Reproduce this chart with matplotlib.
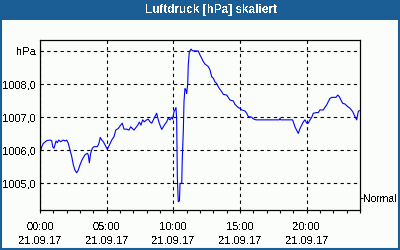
import matplotlib
matplotlib.use('agg')
from matplotlib import pyplot as plt
from matplotlib.patches import Rectangle

# Luftdruck, Stunden seit 00:00 am 21.09.17
stunden = [0.0, 0.13, 0.25, 0.50, 0.75, 0.88, 0.95, 1.05, 1.20, 1.30, 1.40, 1.55, 1.75, 1.90,
           2.00, 2.12, 2.25, 2.38, 2.50, 2.62, 2.75, 2.87, 3.00, 3.13, 3.25, 3.37, 3.55, 3.62,
           3.70, 3.80, 3.92, 4.05, 4.30, 4.42, 4.52, 4.63, 4.75, 4.88, 5.05, 5.20, 5.38, 5.55,
           5.68, 5.87, 6.05, 6.17, 6.30, 6.50, 6.67, 6.80, 6.92, 7.05, 7.20, 7.33, 7.45, 7.57,
           7.70, 7.82, 8.00, 8.12, 8.25, 8.38, 8.50, 8.62, 8.75, 8.87, 9.00, 9.13, 9.25, 9.37,
           9.50, 9.62, 9.75, 9.88, 9.95, 10.05, 10.12, 10.20, 10.25, 10.30, 10.37, 10.46, 10.50,
           10.63, 10.67, 10.75, 10.80, 10.87, 10.95, 11.00, 11.08, 11.12, 11.20, 11.33, 11.42,
           11.87, 12.00, 12.13, 12.25, 12.37, 12.62, 12.75, 12.88, 13.00, 13.12, 13.25, 13.37,
           13.50, 13.63, 13.75, 14.00, 14.12, 14.25, 14.50, 14.62, 14.87, 15.00, 15.13, 15.37,
           15.50, 15.62, 15.88, 16.00, 16.20, 17.95, 18.00, 18.05, 18.95, 19.12, 19.37, 19.50,
           19.75, 19.87, 20.00, 20.12, 20.25, 20.38, 20.50, 20.75, 20.87, 21.00, 21.25, 21.37,
           21.50, 21.62, 21.75, 21.88, 22.20, 22.33, 22.45, 22.57, 22.70, 22.87, 23.08, 23.25,
           23.45, 23.62, 23.75, 23.87, 23.95]
druck = [1005.91, 1006.11, 1006.21, 1006.29, 1006.31, 1006.29, 1006.11, 1006.06, 1006.28,
         1006.23, 1006.31, 1006.26, 1006.31, 1006.28, 1006.31, 1006.21, 1006.01, 1005.81,
         1005.56, 1005.40, 1005.32, 1005.40, 1005.56, 1005.69, 1005.78, 1005.86, 1005.91,
         1005.86, 1005.62, 1005.91, 1006.06, 1006.11, 1006.11, 1006.21, 1006.39, 1006.31,
         1006.26, 1006.16, 1006.03, 1006.16, 1006.31, 1006.41, 1006.61, 1006.66, 1006.76,
         1006.82, 1006.64, 1006.64, 1006.61, 1006.71, 1006.66, 1006.61, 1006.69, 1006.76,
         1006.85, 1006.76, 1006.92, 1006.86, 1006.92, 1006.94, 1006.86, 1006.82, 1006.92,
         1007.02, 1007.12, 1006.92, 1006.76, 1006.63, 1006.71, 1006.79, 1006.86, 1006.97,
         1006.92, 1007.00, 1006.94, 1007.17, 1007.22, 1007.29, 1006.92, 1005.20, 1004.45,
         1004.47, 1005.00, 1005.00, 1005.71, 1006.61, 1007.47, 1007.87, 1007.82, 1007.72,
         1008.02, 1008.58, 1008.98, 1009.06, 1009.01, 1009.00, 1008.88, 1008.78, 1008.68,
         1008.61, 1008.53, 1008.43, 1008.22, 1008.18, 1008.07, 1008.02, 1007.92, 1007.84,
         1007.77, 1007.69, 1007.67, 1007.60, 1007.52, 1007.49, 1007.39, 1007.29, 1007.27,
         1007.22, 1007.19, 1007.12, 1007.02, 1007.00, 1006.95, 1006.92, 1006.92, 1006.97,
         1006.92, 1006.92, 1006.71, 1006.51, 1006.66, 1006.86, 1006.92, 1006.82, 1006.82,
         1006.92, 1007.00, 1007.12, 1007.14, 1007.14, 1007.22, 1007.22, 1007.30, 1007.37,
         1007.47, 1007.57, 1007.60, 1007.60, 1007.67, 1007.62, 1007.52, 1007.42, 1007.40,
         1007.32, 1007.27, 1007.17, 1007.02, 1006.92, 1007.17, 1007.20]

x_ticks = [0, 5, 10, 15, 20]
x_labels = ['00:00\n21.09.17', '05:00\n21.09.17', '10:00\n21.09.17',
            '15:00\n21.09.17', '20:00\n21.09.17']
y_ticks = [1005, 1006, 1007, 1008, 1009]
y_labels = ['1005,0', '1006,0', '1007,0', '1008,0', 'hPa']
normal = 1004.56

blau = '#1b5e95'
hintergrund = '#fbfdfb'

plt.rcParams['font.family'] = ['Liberation Sans', 'DejaVu Sans']
plt.rcParams['font.size'] = 8
plt.rcParams['text.antialiased'] = False

fig = plt.figure(figsize=(4, 2.5), dpi=100, facecolor=hintergrund)

# Titelleiste
fig.patches.append(Rectangle((0, 0.92), 1, 0.08, transform=fig.transFigure,
                             facecolor=blau, edgecolor='none', zorder=0))
fig.text(0.5275, 0.958, 'Luftdruck [hPa] skaliert', color='white', fontweight='bold',
         fontsize=8.5, ha='center', va='center')

ax = fig.add_axes([0.1, 0.16, 0.8, 0.68])
ax.set_facecolor(hintergrund)
ax.plot(stunden, druck, color='#0000ff', linewidth=0.8)

ax.set_xlim(0, 24)
ax.set_ylim(1004.195, 1009.334)
ax.set_xticks(x_ticks)
ax.set_xticklabels(x_labels, linespacing=1.45)
ax.set_xticks(range(0, 25), minor=True)
ax.set_yticks(y_ticks)
ax.set_yticklabels(y_labels)

ax.tick_params(axis='x', which='both', direction='out', length=2.5, width=0.8, pad=6.5)
ax.tick_params(axis='y', length=0, pad=3)
ax.grid(True, which='major', color='black', linestyle=(0, (3, 3)), linewidth=0.8)
for s in ax.spines.values():
    s.set_linewidth(0.8)

ax2 = ax.twinx()
ax2.set_ylim(ax.get_ylim())
ax2.set_yticks([normal])
ax2.set_yticklabels(['Normal'], fontsize=7.5)
ax2.tick_params(axis='y', direction='out', length=2, width=0.8, pad=0.5)

# Rahmen zuletzt, damit er ueber allem liegt
fig.add_artist(Rectangle((0.002, 0.003), 0.995, 0.99, transform=fig.transFigure,
                         facecolor='none', edgecolor=blau, linewidth=1.5, zorder=10))

plt.savefig('out.png', dpi=100, facecolor=hintergrund)
